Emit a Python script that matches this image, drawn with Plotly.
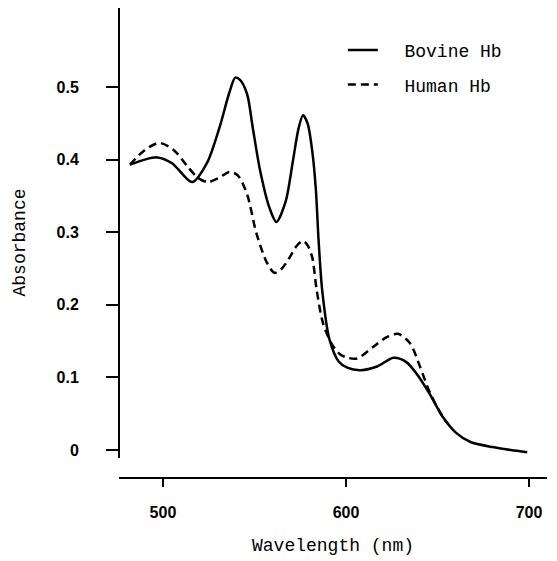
import plotly.graph_objects as go

# Data
bovine_wl = [482, 490, 497, 505, 516, 524, 531, 536, 539.5, 542, 546, 549, 553, 558,
             562, 567, 571, 574, 576.5, 579, 581.5, 583.5, 585, 587, 591, 596, 601,
             608, 617, 626, 633, 640, 646, 653, 660, 668, 680, 690, 699]
bovine_abs = [0.393, 0.400, 0.403, 0.395, 0.369, 0.395, 0.445, 0.490, 0.513, 0.510,
              0.490, 0.445, 0.386, 0.335, 0.314, 0.342, 0.398, 0.442, 0.461, 0.450,
              0.413, 0.36, 0.29, 0.22, 0.152, 0.122, 0.113, 0.110, 0.115, 0.127,
              0.121, 0.100, 0.076, 0.045, 0.024, 0.011, 0.004, 0.000, -0.003]

human_wl = [482, 490, 498, 506, 513, 519, 524.5, 530, 536.5, 541, 546, 551, 556.8,
            561, 565, 569.4, 573, 576.5, 579, 581.5, 584, 587.4, 592, 596.7, 601,
            606, 614.8, 622, 628.4, 635, 640.4, 646, 653, 656]
human_abs = [0.393, 0.413, 0.423, 0.413, 0.392, 0.375, 0.369, 0.374, 0.383, 0.378,
             0.352, 0.299, 0.258, 0.244, 0.250, 0.266, 0.281, 0.288, 0.282, 0.266,
             0.220, 0.175, 0.147, 0.132, 0.127, 0.126, 0.142, 0.155, 0.160, 0.147,
             0.115, 0.078, 0.045, 0.035]

x_ticks = [500, 600, 700]
y_ticks = [0, 0.1, 0.2, 0.3, 0.4, 0.5]
y_ticklabels = ["0", "0.1", "0.2", "0.3", "0.4", "0.5"]

mono = "Liberation Mono"
sans = "Liberation Sans"

fig = go.Figure()
fig.add_trace(go.Scatter(
    x=bovine_wl, y=bovine_abs, mode="lines", name="\u00a0\u00a0Bovine Hb",
    legendgroup="b",
    line=dict(color="black", width=2.5, shape="spline", smoothing=0.8)))
fig.add_trace(go.Scatter(
    x=human_wl, y=human_abs, mode="lines", name="\u00a0\u00a0Human Hb",
    legendgroup="h",
    line=dict(color="black", width=2.5, dash="8px,5px", shape="spline", smoothing=0.8)))

fig.add_shape(type="line", xref="paper", yref="y", x0=0, x1=0, y0=-0.011, y1=0.6088,
              line=dict(color="black", width=2))

fig.update_layout(
    width=557, height=561,
    margin=dict(l=111, r=18, t=0, b=92, autoexpand=False),
    paper_bgcolor="white", plot_bgcolor="white",
    showlegend=True,
    legend=dict(x=0.523, y=0.949, xanchor="left", yanchor="top",
                font=dict(family=mono, size=18, color="black"),
                bgcolor="rgba(0,0,0,0)", tracegroupgap=8),
    xaxis=dict(range=[476, 709.8], tickvals=x_ticks, ticks="outside", ticklen=8,
               tickwidth=2, tickcolor="black", showline=True, linecolor="black",
               linewidth=2, showgrid=False, zeroline=False, automargin=False,
               tickfont=dict(family=sans, size=16, color="black", weight="bold"),
               ticklabelstandoff=12,
               title=dict(text="Wavelength (nm)", font=dict(family=mono, size=18, color="black"),
                          standoff=18)),
    yaxis=dict(range=[-0.0372, 0.6088], tickvals=y_ticks, ticktext=y_ticklabels,
               ticks="outside", ticklen=12, tickwidth=2, tickcolor="black",
               showline=False, showgrid=False, zeroline=False, automargin=False,
               tickfont=dict(family=sans, size=16, color="black", weight="bold"),
               ticklabelstandoff=24,
               title=dict(text="Absorbance", font=dict(family=mono, size=18, color="black"),
                          standoff=26)),
)

fig.write_html("out.html")
